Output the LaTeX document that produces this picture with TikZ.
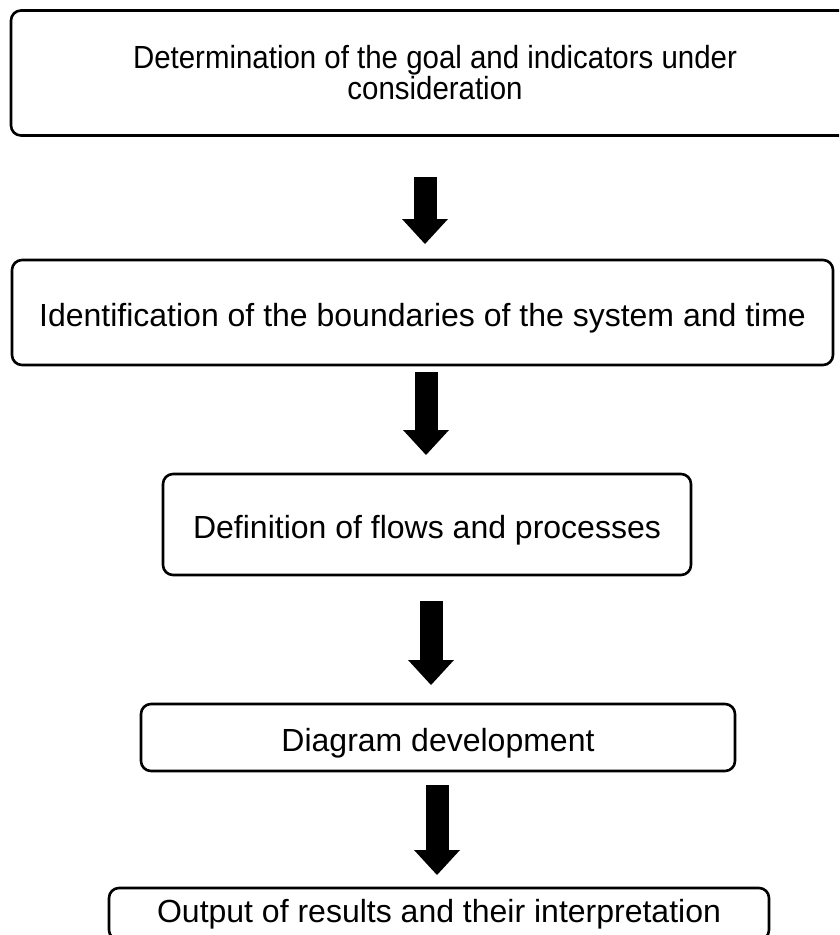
\documentclass[tikz,border=0pt]{standalone}
\usepackage{fontspec}
\setmainfont{Liberation Sans}
\newfontfamily\condfont[FakeStretch=0.92]{Liberation Sans}
\usetikzlibrary{arrows.meta}
\begin{document}
\begin{tikzpicture}[x=1pt,y=-1pt,
  box/.style={draw=black, line width=2.6pt, rounded corners=10pt, fill=white,
    inner sep=0pt, font=\fontsize{32}{37}\selectfont, align=center,
    text height=27pt, text depth=0pt},
  bigarrow/.style={line width=23pt, black,
    -{Triangle[width=46pt,length=25pt,line width=0pt]}}]
\useasboundingbox (0,0) rectangle (839,935);
\clip (0,0) rectangle (839,935);
\node[box, minimum width=848pt, minimum height=125pt, text height=, text depth=,
  font=\condfont\fontsize{32}{31}\selectfont] (b1) at (435,73)
  {Determination of the goal and indicators under\\consideration};
\node[box, minimum width=821pt, minimum height=105pt] (b2) at (422.5,312.5)
  {Identification of the boundaries of the system and time};
\node[box, minimum width=528pt, minimum height=101pt] (b3) at (427,524.5)
  {Definition of flows and processes};
\node[box, minimum width=594pt, minimum height=67pt] (b4) at (438,737.5)
  {Diagram development};
\node[box, minimum width=660pt, minimum height=52pt, text height=23pt, text depth=7pt]
  (b5) at (439,914)
  {Output of results and their interpretation};
\coordinate (a1s) at (425,177); \coordinate (a1e) at (425,244);
\coordinate (a2s) at (426,372); \coordinate (a2e) at (426,455);
\coordinate (a3s) at (431,601); \coordinate (a3e) at (431,685);
\coordinate (a4s) at (437,785); \coordinate (a4e) at (437,875);
\draw[bigarrow] (a1s) -- (a1e);
\draw[bigarrow] (a2s) -- (a2e);
\draw[bigarrow] (a3s) -- (a3e);
\draw[bigarrow] (a4s) -- (a4e);
\end{tikzpicture}
\end{document}
